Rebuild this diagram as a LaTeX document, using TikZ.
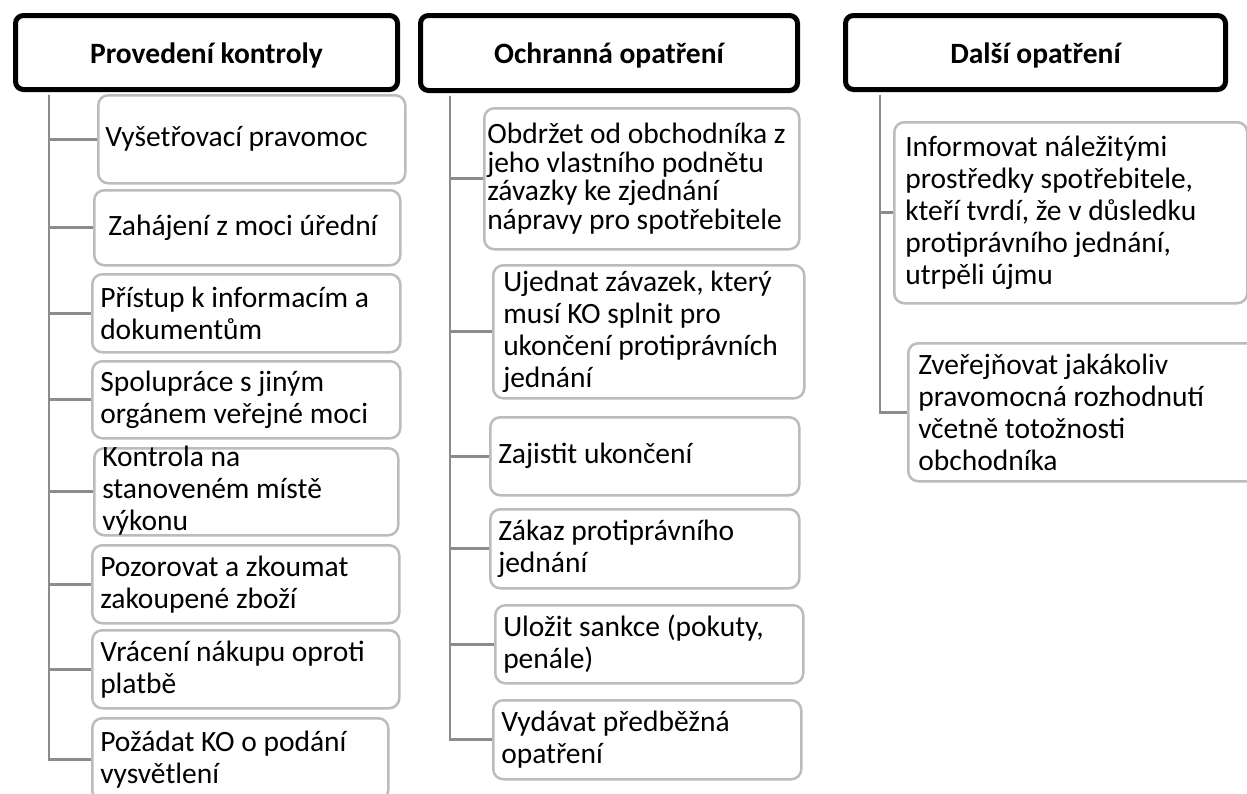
\documentclass[tikz,border=0pt]{standalone}
\usepackage{fontspec}
\setmainfont{Carlito}
\usepackage{tikz}
\usepackage{xcolor}
\definecolor{leafgray}{RGB}{188,188,188}
\definecolor{linkgray}{RGB}{140,140,140}
\tikzset{
  head/.style={draw=black, line width=5pt, rounded corners=8pt, fill=white, text height=27pt, text depth=6pt, font=\fontsize{29.5}{32}\selectfont\bfseries},
  leaf/.style={draw=leafgray, line width=2.5pt, rounded corners=10pt, fill=white, anchor=north west, align=flush left, inner ysep=0pt, inner xsep=8pt, font=\fontsize{29.5}{32}\selectfont},
  branch/.style={draw=linkgray, line width=2.8pt}
}

\begin{document}
\begin{tikzpicture}[x=1pt, y=-1pt]
\useasboundingbox (0,0) rectangle (1247,793);
\clip (0,0) rectangle (1247,793);

% headers
\node[head, minimum width=382pt, minimum height=74pt] (h1) at (206.5,52.5) {Provedení kontroly};
\node[head, minimum width=377pt, minimum height=75pt] (h2) at (609,53) {Ochranná opatření};
\node[head, minimum width=380pt, minimum height=74pt] (h3) at (1035.5,52.5) {Další opatření};

% Provedení kontroly
\node[leaf, inner xsep=7pt, text width=293pt, minimum height=88pt] (pk1) at (97,94) {Vyšetřovací pravomoc};
\node[leaf, inner xsep=14pt, text width=278pt, minimum height=75pt] (pk2) at (93,189) {Zahájení z moci úřední};
\node[leaf, text width=292pt, minimum height=78pt] (pk3) at (91,273) {Přístup k informacím a\\dokumentům};
\node[leaf, text width=292pt, minimum height=77pt] (pk4) at (91,360) {Spolupráce s jiným\\orgánem veřejné moci};
\node[leaf, text width=288pt, minimum height=87pt, text height=18pt, text depth=69pt] (pk5) at (93,447) {Kontrola na\\stanoveném místě\\výkonu};
\node[leaf, text width=291pt, minimum height=78pt] (pk6) at (91,544) {Pozorovat a zkoumat\\zakoupené zboží};
\node[leaf, text width=291pt, minimum height=78pt] (pk7) at (91,629) {Vrácení nákupu oproti\\platbě};
\node[leaf, text width=280pt, minimum height=82pt] (pk8) at (91,717) {Požádat KO o podání\\vysvětlení};

% Ochranná opatření
\node[leaf, inner xsep=3pt, text width=309pt, minimum height=141pt, font=\fontsize{29.5}{28.5}\selectfont] (oo1) at (483,107) {Obdržet od obchodníka z\\jeho vlastního podnětu\\závazky ke zjednání\\nápravy pro spotřebitele};
\node[leaf, inner xsep=10pt, text width=291pt, minimum height=133pt] (oo2) at (492,264) {Ujednat závazek, který\\musí KO splnit pro\\ukončení protiprávních\\jednání};
\node[leaf, text width=293pt, minimum height=78pt] (oo3) at (489,416) {Zajistit ukončení};
\node[leaf, text width=293pt, minimum height=79pt] (oo4) at (489,508) {Zákaz protiprávního\\jednání};
\node[leaf, text width=292pt, minimum height=78pt] (oo5) at (494,604) {Uložit sankce (pokuty,\\penále)};
\node[leaf, text width=292pt, minimum height=79pt] (oo6) at (492,699) {Vydávat předběžná\\opatření};

% Další opatření
\node[leaf, inner xsep=11pt, text width=331pt, minimum height=181pt] (do1) at (893,121) {Informovat náležitými\\prostředky spotřebitele,\\kteří tvrdí, že v důsledku\\protiprávního jednání,\\utrpěli újmu};
\node[leaf, inner xsep=10pt, text width=340pt, minimum height=138pt] (do2) at (907,342) {Zveřejňovat jakákoliv\\pravomocná rozhodnutí\\včetně totožnosti\\obchodníka};

% connectors
\coordinate (t1) at ([xshift=36pt,yshift=-2.5pt]h1.south west);
\coordinate (t2) at ([xshift=32pt,yshift=-2.5pt]h2.south west);
\coordinate (t3) at ([xshift=37pt,yshift=-2.5pt]h3.south west);
\foreach \k in {pk1,pk2,pk3,pk4,pk5,pk6,pk7,pk8}
  \draw[branch] (t1) |- (\k.west);
\foreach \k in {oo1,oo2,oo3,oo4,oo5,oo6}
  \draw[branch] (t2) |- (\k.west);
\foreach \k in {do1,do2}
  \draw[branch] (t3) |- (\k.west);
\end{tikzpicture}
\end{document}
